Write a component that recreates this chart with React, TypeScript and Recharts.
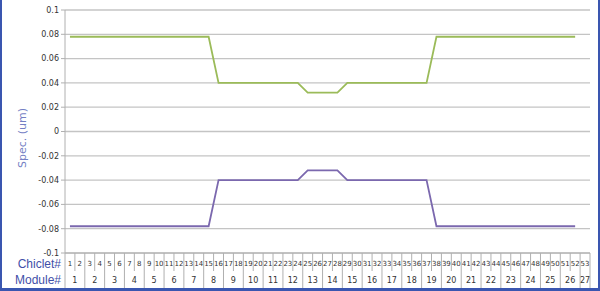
import React from "react"
import { LineChart, Line, XAxis, YAxis, CartesianGrid } from "recharts"

const chiclets = Array.from({ length: 53 }, (_, i) => i + 1)
const moduleLabels = [
    "1", "2", "3", "4", "5", "6", "7", "8", "9", "10", "11", "12", "13", "14",
    "15", "16", "17", "18", "19", "20", "21", "22", "23", "24", "25", "26", "27",
]
const upperSpec = [
    0.078, 0.078, 0.078, 0.078, 0.078, 0.078, 0.078, 0.078, 0.078, 0.078, 0.078, 0.078, 0.078, 0.078, 0.078,
    0.04, 0.04, 0.04, 0.04, 0.04, 0.04, 0.04, 0.04, 0.04,
    0.032, 0.032, 0.032, 0.032,
    0.04, 0.04, 0.04, 0.04, 0.04, 0.04, 0.04, 0.04, 0.04,
    0.078, 0.078, 0.078, 0.078, 0.078, 0.078, 0.078, 0.078, 0.078, 0.078, 0.078, 0.078, 0.078, 0.078, 0.078,
    null,
]
const lowerSpec = [
    -0.078, -0.078, -0.078, -0.078, -0.078, -0.078, -0.078, -0.078, -0.078, -0.078, -0.078, -0.078, -0.078, -0.078, -0.078,
    -0.04, -0.04, -0.04, -0.04, -0.04, -0.04, -0.04, -0.04, -0.04,
    -0.032, -0.032, -0.032, -0.032,
    -0.04, -0.04, -0.04, -0.04, -0.04, -0.04, -0.04, -0.04, -0.04,
    -0.078, -0.078, -0.078, -0.078, -0.078, -0.078, -0.078, -0.078, -0.078, -0.078, -0.078, -0.078, -0.078, -0.078, -0.078,
    null,
]
const yTicks = [-0.1, -0.08, -0.06, -0.04, -0.02, 0, 0.02, 0.04, 0.06, 0.08, 0.1]

const data = chiclets.map((c, i) => ({
    chiclet: c,
    upper: upperSpec[i],
    lower: lowerSpec[i],
}))

const W = 600
const H = 291
const PLOT_LEFT = 65
const PLOT_RIGHT = 590
const PLOT_TOP = 10
const PLOT_BOTTOM = 253
const CELL = (PLOT_RIGHT - PLOT_LEFT) / chiclets.length
const AXIS_COLOR = "#b0b0b0"
const ROW_COLOR = "#3f4fa8"

const ChicletTick = (props: any) => {
    const { x, payload } = props
    const c = payload.value as number
    const half = CELL / 2
    const lastInModule = c % 2 === 0 || c === chiclets.length
    const moduleIdx = Math.floor((c - 1) / 2)
    return (
        <g>
            {c === 1 && (
                <line x1={x - half} x2={x - half} y1={PLOT_BOTTOM} y2={PLOT_BOTTOM + 35} stroke={AXIS_COLOR} />
            )}
            <text x={x} y={PLOT_BOTTOM + 13} textAnchor="middle" fontSize={7} fill="#333" fontFamily="DejaVu Sans">
                {c}
            </text>
            <line
                x1={x + half}
                x2={x + half}
                y1={PLOT_BOTTOM}
                y2={lastInModule ? PLOT_BOTTOM + 35 : PLOT_BOTTOM + 18}
                stroke={AXIS_COLOR}
            />
            {c % 2 === 1 && (
                <text
                    x={c === chiclets.length ? x : x + half}
                    y={PLOT_BOTTOM + 30}
                    textAnchor="middle"
                    fontSize={8}
                    fill="#333"
                    fontFamily="DejaVu Sans"
                >
                    {moduleLabels[moduleIdx]}
                </text>
            )}
        </g>
    )
}

const App = () => {
    return (
        <div style={{ position: "absolute", left: 0, top: 0, width: W, height: H, background: "#fff" }}>
            <LineChart
                width={W}
                height={H}
                data={data}
                margin={{ top: PLOT_TOP, right: W - PLOT_RIGHT, left: 15, bottom: 0 }}
            >
                <CartesianGrid vertical={false} stroke="#c4c4c4" strokeWidth={1.3} />
                <XAxis
                    dataKey="chiclet"
                    type="number"
                    domain={[0.5, 53.5]}
                    ticks={chiclets}
                    interval={0}
                    tickLine={false}
                    stroke={AXIS_COLOR}
                    height={H - PLOT_BOTTOM}
                    tick={<ChicletTick />}
                />
                <YAxis
                    domain={[-0.1, 0.1]}
                    ticks={yTicks}
                    interval={0}
                    width={50}
                    stroke={AXIS_COLOR}
                    tickSize={4}
                    tickFormatter={(v: number) => String(v)}
                    tick={{ fontSize: 8, fill: "#333", fontFamily: "DejaVu Sans" }}
                />
                <Line dataKey="upper" stroke="#9bbb59" strokeWidth={1.8} dot={false} isAnimationActive={false} />
                <Line dataKey="lower" stroke="#7b68ae" strokeWidth={1.8} dot={false} isAnimationActive={false} />
                <text
                    x={26}
                    y={138}
                    transform="rotate(-90 26 138)"
                    textAnchor="middle"
                    fontSize={11}
                    fill="#7480c4"
                    fontFamily="DejaVu Sans"
                >
                    Spec. (um)
                </text>
                <text x={61} y={PLOT_BOTTOM + 15} textAnchor="end" fontSize={12} fill={ROW_COLOR} fontFamily="Liberation Sans">
                    Chiclet#
                </text>
                <text x={61} y={PLOT_BOTTOM + 31} textAnchor="end" fontSize={12} fill={ROW_COLOR} fontFamily="Liberation Sans">
                    Module#
                </text>
            </LineChart>
            <div
                style={{
                    position: "absolute",
                    left: 0,
                    top: 0,
                    width: W,
                    height: H,
                    boxSizing: "border-box",
                    borderLeft: "2px solid #3a56b0",
                    borderRight: "2px solid #3a56b0",
                    borderBottom: "3px solid #3a56b0",
                    pointerEvents: "none",
                }}
            />
        </div>
    )
}

export default App
